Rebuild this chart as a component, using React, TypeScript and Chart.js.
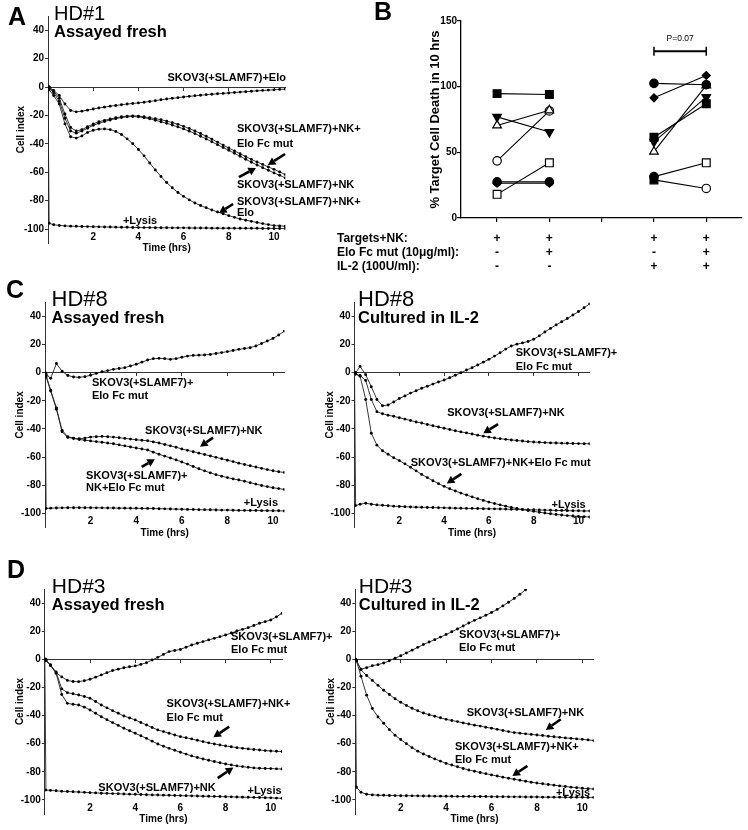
import React, { useEffect, useRef } from "react";
import { Chart, registerables } from "chart.js";
Chart.register(...registerables);

const FONT = "'Liberation Sans', Arial, Helvetica, sans-serif";
Chart.defaults.font.family = FONT;
Chart.defaults.color = "#000";

// ---------- shared time axis (hrs) ----------
const times = [
  0, 0.05, 0.25, 0.5, 0.75, 1, 1.25, 1.5, 1.75, 2, 2.25,
  2.5, 2.75, 3, 3.25, 3.5, 3.75, 4, 4.25, 4.5, 4.75, 5,
  5.25, 5.5, 5.75, 6, 6.25, 6.5, 6.75, 7, 7.25, 7.5, 7.75,
  8, 8.25, 8.5, 8.75, 9, 9.25, 9.5, 9.75, 10, 10.25, 10.5,
];
const timeTickValues = [2, 4, 6, 8, 10];
const cellIndexTickValues = [-100, -80, -60, -40, -20, 0, 20, 40];

// ---------- Panel A : HD#1 assayed fresh ----------
const hd1Elo = [
  0, 0, -2.5, -6, -12, -16.5, -17.5, -17, -16.3, -15.5, -14.8,
  -14.2, -13.5, -13, -12.5, -12, -11.6, -11.2, -10.7, -10.2, -9.6, -9,
  -8.5, -8, -7.5, -7, -6.6, -6.2, -5.8, -5.4, -5.1, -4.8, -4.5,
  -4.2, -3.9, -3.6, -3.3, -3, -2.7, -2.4, -2.2, -2, -1.7, -1.5,
];
const hd1NKEloFcMut = [
  0, 0, -3, -8, -19, -28.5, -31, -30, -28, -26, -24.5,
  -23.5, -22.5, -21.7, -21, -20.5, -20.3, -20.5, -21, -21.6, -22.3, -23,
  -24, -25.1, -26.3, -27.7, -29.2, -30.9, -32.7, -34.7, -36.7, -38.8, -40.9,
  -43, -45, -47, -49, -51, -52.8, -54.5, -56.3, -58, -59.8, -61.7,
];
const hd1NK = [
  0, -1, -4, -10, -22, -31, -32.5, -31, -29, -27, -25.5,
  -24.3, -23.2, -22.3, -21.5, -21, -20.8, -21, -21.6, -22.4, -23.4, -24.5,
  -25.6, -26.8, -28.1, -29.5, -31.1, -32.8, -34.7, -36.6, -38.6, -40.6, -42.6,
  -44.6, -46.7, -48.8, -50.9, -53, -54.9, -56.8, -58.6, -60.5, -62.2, -64,
];
const hd1NKElo = [
  0, -2, -6, -12, -26, -35, -36, -34.5, -32, -30.5, -29.7,
  -29.5, -30, -31.3, -33.5, -36.5, -40, -44, -48.5, -53.5, -58.5, -63,
  -67.3, -71, -74.3, -77, -79.5, -81.7, -83.5, -85, -86.6, -88, -89.3,
  -90.6, -91.8, -93, -93.8, -94.6, -95.4, -96.2, -96.9, -97.6, -97.8, -98,
];
const hd1Lysis = [
  0, -96, -97, -97.5, -97.8, -98, -98.1, -98.2, -98.3, -98.4, -98.5,
  -98.6, -98.6, -98.7, -98.8, -98.8, -98.9, -99, -99, -99, -99.1, -99.1,
  -99.1, -99.2, -99.2, -99.2, -99.3, -99.3, -99.3, -99.3, -99.4, -99.4, -99.4,
  -99.4, -99.5, -99.5, -99.5, -99.5, -99.5, -99.6, -99.6, -99.6, -99.6, -99.6,
];

// ---------- Panel C left : HD#8 assayed fresh ----------
const hd8FreshEloFcMut = [
  0, -1, -4, 6.5, 1, -2, -3, -3.3, -2.8, -1.8, -0.5,
  0.7, 1.5, 2.4, 3, 3.6, 4.8, 6, 7.5, 9, 10, 10.2,
  10, 9.5, 10, 11, 11.8, 12.3, 12.5, 12.6, 13, 13.7, 14.3,
  15, 15.8, 16.6, 17.2, 17.8, 19, 20.8, 22.5, 24.4, 26.8, 29.6,
];
const hd8FreshNK = [
  0, -2, -12.5, -25, -41, -45.5, -46.5, -47, -46.5, -45.8, -45.5,
  -45.3, -45.5, -45.8, -46.2, -46.7, -47.2, -47.7, -48, -48.4, -49.2, -50,
  -51, -52, -53, -54.2, -55.2, -56.2, -57.2, -58.2, -59.2, -60.2, -61.2,
  -62.2, -63.2, -64.3, -65.3, -66.2, -67.1, -68, -68.9, -69.7, -70.4, -71,
];
const hd8FreshNKEloFcMut = [
  0, -3, -13, -26, -42, -46, -46.8, -47.5, -48, -48.5, -49,
  -49.5, -50, -50.5, -51.3, -52, -52.8, -53.5, -54.2, -55, -56.5, -58,
  -59.3, -60.6, -62, -63.5, -65, -66.7, -68.3, -69.8, -71.2, -72.5, -73.6,
  -74.6, -75.5, -76.3, -77.2, -78.2, -79.2, -80.2, -81, -81.8, -82.4, -83,
];
const hd8FreshLysis = [
  0, -96.5, -96.3, -96.2, -96.1, -96, -96, -96, -96, -96, -96.1,
  -96.1, -96.2, -96.2, -96.3, -96.3, -96.4, -96.4, -96.5, -96.5, -96.6, -96.7,
  -96.8, -96.9, -97, -97.1, -97.2, -97.3, -97.4, -97.5, -97.5, -97.6, -97.7,
  -97.7, -97.8, -97.9, -97.9, -98, -98, -98.1, -98.1, -98.2, -98.2, -98.3,
];

// ---------- Panel C right : HD#8 cultured in IL-2 ----------
const hd8IL2EloFcMut = [
  0, 0, 4.5, -1.5, -10, -19, -23.5, -23, -20.8, -18.3, -16.5,
  -14.5, -12.8, -11.1, -9.6, -8.1, -6.6, -5.2, -3.6, -1.8, 0, 1.9,
  3.6, 5.5, 7.5, 9.5, 11.8, 14.2, 16.8, 19, 20.3, 21.2, 22.2,
  23.8, 26.2, 29, 31.5, 34, 36.2, 38.5, 41, 43.5, 46.2, 49,
];
const hd8IL2NK = [
  0, -1, -2, -5.5, -19, -27.7, -29.2, -30.2, -31, -32, -33,
  -34, -35, -35.8, -36.8, -37.7, -38.6, -39.5, -40.4, -41.3, -42.1, -42.8,
  -43.6, -44.4, -45.1, -45.8, -46.4, -46.9, -47.4, -47.8, -48.2, -48.6, -49,
  -49.3, -49.5, -49.7, -49.9, -50, -50.1, -50.2, -50.3, -50.4, -50.5, -50.5,
];
const hd8IL2NKEloFcMut = [
  0, -1, -2.5, -19, -43, -51.5, -55.5, -58, -60.5, -62.5, -64.8,
  -67.2, -69.8, -72.3, -74.6, -76.8, -78.9, -80.8, -82.5, -84.1, -85.6, -87,
  -88.3, -89.6, -90.8, -92, -93, -94, -94.9, -95.8, -96.6, -97.3, -98,
  -98.6, -99.2, -99.8, -100.3, -100.8, -101.2, -101.6, -101.9, -102.2, -102.4, -102.6,
];
const hd8IL2Lysis = [
  0, -94.5, -93.5, -92.8, -93.5, -94, -94.3, -94.6, -94.9, -95.1, -95.3,
  -95.5, -95.6, -95.7, -95.8, -95.9, -96, -96.1, -96.2, -96.3, -96.4, -96.5,
  -96.5, -96.6, -96.7, -96.8, -96.8, -96.9, -97, -97.1, -97.2, -97.3, -97.4,
  -97.5, -97.6, -97.7, -97.8, -97.9, -98, -98.1, -98.2, -98.2, -98.3, -98.3,
];

// ---------- Panel D left : HD#3 assayed fresh ----------
const hd3FreshEloFcMut = [
  0, 0, -4.5, -9.5, -12.5, -15, -15.8, -15.9, -15.2, -14.2, -12.7,
  -11.1, -9.5, -8, -7, -6, -5.3, -4.7, -3.6, -2.4, -0.5, 1.4,
  3.5, 5.5, 6.3, 7, 8.6, 10.2, 11.4, 12.6, 13.8, 14.9, 16.1,
  17.3, 18.7, 20.1, 21.3, 22.5, 24, 25.6, 26.8, 28, 30.2, 32.7,
];
const hd3FreshNKEloFcMut = [
  0, -1, -4, -9, -21, -23.7, -24.5, -25.4, -26.4, -27.7, -30,
  -32.5, -34.5, -36.5, -38.4, -40.3, -41.7, -43.1, -44.9, -46.7, -48.5, -50.2,
  -51.4, -52.6, -53.8, -55, -55.8, -56.6, -57.6, -58.5, -59.4, -60.2, -60.9,
  -61.6, -62.2, -62.8, -63.3, -63.7, -64.1, -64.5, -64.9, -65.2, -65.4, -65.6,
];
const hd3FreshNK = [
  0, -1, -4, -10, -25, -31.3, -32, -32.5, -34, -36, -38.4,
  -40.8, -42.9, -45, -47, -49, -50.8, -52.6, -54.4, -56.2, -58.2, -60.2,
  -61.8, -63.3, -64.7, -66.1, -67.4, -68.7, -69.8, -70.9, -71.8, -72.7, -73.6,
  -74.4, -75.1, -75.8, -76.3, -76.8, -77.2, -77.5, -77.6, -77.7, -77.9, -78,
];
const hd3FreshLysis = [
  0, -93, -93.2, -93.5, -93.8, -94, -94.2, -94.4, -94.6, -94.8, -95,
  -95.2, -95.3, -95.5, -95.6, -95.8, -95.9, -96, -96.1, -96.3, -96.4, -96.5,
  -96.6, -96.7, -96.8, -96.9, -97, -97.1, -97.2, -97.3, -97.4, -97.5, -97.6,
  -97.7, -97.8, -97.9, -98, -98.1, -98.2, -98.3, -98.4, -98.5, -98.7, -98.8,
];

// ---------- Panel D right : HD#3 cultured in IL-2 ----------
const hd3IL2EloFcMut = [
  0, -1, -7, -6, -4.5, -3.8, -2.6, -1, 0.8, 2.5, 4.5,
  6.5, 8.5, 10.5, 12.3, 14, 15.8, 17.6, 19.6, 21.6, 23.7, 25.8,
  27.7, 29.5, 31.3, 33.3, 35.5, 38, 40.6, 43.3, 46.3, 49.5, null,
  null, null, null, null, null, null, null, null, null, null, null,
];
const hd3IL2NK = [
  0, -1, -7.5, -11.5, -15, -18.5, -22, -25, -28, -30.5, -32.8,
  -34.8, -36.6, -38.2, -39.4, -40.5, -41.6, -42.7, -43.5, -44.3, -45.2, -46,
  -46.8, -47.5, -48.3, -49, -49.8, -50.6, -51.4, -52.1, -52.5, -53, -53.4,
  -53.8, -54.2, -54.7, -55.1, -55.5, -55.9, -56.2, -56.6, -56.9, -57.3, -57.8,
];
const hd3IL2NKEloFcMut = [
  0, -1, -12, -25.5, -35, -41, -45.5, -50, -54, -57, -60,
  -62.8, -65.3, -67.3, -69.1, -70.8, -72.4, -74, -75.2, -76.4, -77.6, -78.7,
  -79.6, -80.5, -81.3, -82.2, -83, -83.8, -84.6, -85.3, -86, -86.7, -87.4,
  -88, -88.5, -89, -89.5, -90, -90.4, -90.9, -91.3, -91.7, -92, -92.2,
];
const hd3IL2Lysis = [
  0, -91, -94.5, -96, -96.4, -96.6, -96.7, -96.8, -96.9, -97, -97,
  -97.1, -97.1, -97.2, -97.2, -97.3, -97.3, -97.4, -97.4, -97.5, -97.5, -97.5,
  -97.6, -97.6, -97.6, -97.7, -97.7, -97.7, -97.8, -97.8, -97.8, -97.9, -97.9,
  -97.9, -98, -98, -98, -98, -98.1, -98.1, -98.1, -98.1, -98.2, -98.2,
];

// ---------- Panel B : % target cell death in 10 hrs ----------
const bColumns = [0, 1, 2, 3, 4];
const bTargetsRow = ["+", "+", "", "+", "+"];
const bEloRow = ["-", "+", "", "-", "+"];
const bIL2Row = ["-", "-", "", "+", "+"];
const bRowLabels = ["Targets+NK:", "Elo Fc mut (10\u03bcg/ml):", "IL-2 (100U/ml):"];
const bYTickValues = [0, 50, 100, 150];
const bLeftBefore = [94.7, 77, 70.5, 43.5, 27.5, 26.5, 18];
const bLeftAfter = [94, 65.5, 82, 81.5, 27.5, 26.5, 42];
const bLeftBeforeMarker = ["square", "invTriangle", "openTriangle", "openCircle", "circle", "diamond", "openSquare"];
const bLeftAfterMarker = ["square", "invTriangle", "openTriangle", "openCircle", "circle", "diamond", "openSquare"];
const bRightBefore = [102.5, 91.5, 61.5, 58, 50.5, 31.5, 29];
const bRightAfter = [101.5, 108.5, 87, 92, 101, 42, 22.5];
const bRightBeforeMarker = ["circle", "diamond", "square", "invTriangle", "openTriangle", "circle", "square"];
const bRightAfterMarker = ["circle", "diamond", "square", "invTriangle", "triangle", "openSquare", "openCircle"];
const bPText = "P=0.07";

// ---------- layout / styling ----------
type Frame = {
  left: number; top: number; width: number; height: number;
  chartLeft: number; chartTop: number; chartRight: number; chartBottom: number;
  titleInset: number; yTitleGap: number;
  letter?: { text: string; x: number; y: number };
};
type Note = { text: string; t: number; v: number; align: CanvasTextAlign };
type ArrowMark = { from: [number, number]; to: [number, number] };
type TimePanel = {
  frame: Frame; hd: string; hdSize: number; sub: string;
  series: (number | null)[][]; notes: Note[]; arrows: ArrowMark[];
};

const LINE = "#222";

const panels: TimePanel[] = [
  {
    frame: { left: 0, top: 0, width: 374, height: 262, chartLeft: 48, chartTop: 16, chartRight: 285.3, chartBottom: 243.2, titleInset: 6, yTitleGap: 27, letter: { text: "A", x: 8, y: 25 } },
    hd: "HD#1", hdSize: 20, sub: "Assayed fresh",
    series: [hd1Elo, hd1NKEloFcMut, hd1NK, hd1NKElo, hd1Lysis],
    notes: [
      { text: "SKOV3(+SLAMF7)+Elo", t: 10.53, v: 6.3, align: "right" },
      { text: "SKOV3(+SLAMF7)+NK+", t: 8.36, v: -29.6, align: "left" },
      { text: "Elo Fc mut", t: 8.36, v: -40, align: "left" },
      { text: "SKOV3(+SLAMF7)+NK", t: 8.36, v: -69, align: "left" },
      { text: "SKOV3(+SLAMF7)+NK+", t: 8.36, v: -81, align: "left" },
      { text: "Elo", t: 8.36, v: -88.7, align: "left" },
      { text: "+Lysis", t: 4.07, v: -94.4, align: "center" },
    ],
    arrows: [
      { from: [10.49, -47.2], to: [9.73, -54.9] },
      { from: [8.45, -63.4], to: [9.2, -57] },
      { from: [8.19, -82.4], to: [7.57, -88.7] },
    ],
  },
  {
    frame: { left: 0, top: 272, width: 374, height: 268, chartLeft: 45, chartTop: 30.4, chartRight: 284.4, chartBottom: 255.4, titleInset: 6.5, yTitleGap: 24.5, letter: { text: "C", x: 6, y: 26 } },
    hd: "HD#8", hdSize: 22, sub: "Assayed fresh",
    series: [hd8FreshEloFcMut, hd8FreshNK, hd8FreshNKEloFcMut, hd8FreshLysis],
    notes: [
      { text: "SKOV3(+SLAMF7)+", t: 2.06, v: -7.3, align: "left" },
      { text: "Elo Fc mut", t: 2.06, v: -16.6, align: "left" },
      { text: "SKOV3(+SLAMF7)+NK", t: 4.39, v: -41.5, align: "left" },
      { text: "SKOV3(+SLAMF7)+", t: 1.8, v: -73.2, align: "left" },
      { text: "NK+Elo Fc mut", t: 1.8, v: -82, align: "left" },
      { text: "+Lysis", t: 10.22, v: -92.7, align: "right" },
    ],
    arrows: [
      { from: [7.37, -46.2], to: [6.8, -52.6] },
      { from: [4.24, -66.9], to: [4.82, -61.6] },
    ],
  },
  {
    frame: { left: 306, top: 272, width: 442, height: 268, chartLeft: 48.5, chartTop: 30.4, chartRight: 283.7, chartBottom: 255.4, titleInset: 3.5, yTitleGap: 24.5 },
    hd: "HD#8", hdSize: 22, sub: "Cultured in IL-2",
    series: [hd8IL2EloFcMut, hd8IL2NK, hd8IL2NKEloFcMut, hd8IL2Lysis],
    notes: [
      { text: "SKOV3(+SLAMF7)+", t: 7.2, v: 13.8, align: "left" },
      { text: "Elo Fc mut", t: 7.2, v: 4.3, align: "left" },
      { text: "SKOV3(+SLAMF7)+NK", t: 4.14, v: -28.9, align: "left" },
      { text: "SKOV3(+SLAMF7)+NK+Elo Fc mut", t: 2.51, v: -64.4, align: "left" },
      { text: "+Lysis", t: 10.32, v: -94.1, align: "right" },
    ],
    arrows: [
      { from: [6.41, -36.5], to: [5.75, -43.1] },
      { from: [4.77, -72], to: [4.12, -78.7] },
    ],
  },
  {
    frame: { left: 0, top: 552, width: 374, height: 276, chartLeft: 44.8, chartTop: 37, chartRight: 282.1, chartBottom: 262, titleInset: 7, yTitleGap: 24.5, letter: { text: "D", x: 7, y: 26 } },
    hd: "HD#3", hdSize: 21, sub: "Assayed fresh",
    series: [hd3FreshEloFcMut, hd3FreshNKEloFcMut, hd3FreshNK, hd3FreshLysis],
    notes: [
      { text: "SKOV3(+SLAMF7)+", t: 8.24, v: 15.6, align: "left" },
      { text: "Elo Fc mut", t: 8.24, v: 6.6, align: "left" },
      { text: "SKOV3(+SLAMF7)+NK+", t: 5.39, v: -31.8, align: "left" },
      { text: "Elo Fc mut", t: 5.39, v: -41.9, align: "left" },
      { text: "SKOV3(+SLAMF7)+NK", t: 2.37, v: -91.7, align: "left" },
      { text: "+Lysis", t: 10.48, v: -93.6, align: "right" },
    ],
    arrows: [
      { from: [8.16, -47.9], to: [7.46, -55.4] },
      { from: [7.65, -84.5], to: [8.34, -77] },
    ],
  },
  {
    frame: { left: 306, top: 552, width: 442, height: 276, chartLeft: 49.3, chartTop: 37, chartRight: 287.7, chartBottom: 262, titleInset: 3.5, yTitleGap: 24.5 },
    hd: "HD#3", hdSize: 21, sub: "Cultured in IL-2",
    series: [hd3IL2EloFcMut, hd3IL2NK, hd3IL2NKEloFcMut, hd3IL2Lysis],
    notes: [
      { text: "SKOV3(+SLAMF7)+", t: 4.57, v: 17.3, align: "left" },
      { text: "Elo Fc mut", t: 4.57, v: 8.3, align: "left" },
      { text: "SKOV3(+SLAMF7)+NK", t: 4.91, v: -37.9, align: "left" },
      { text: "SKOV3(+SLAMF7)+NK+", t: 4.39, v: -62.5, align: "left" },
      { text: "Elo Fc mut", t: 4.39, v: -71.6, align: "left" },
      { text: "+Lysis", t: 10.34, v: -95.2, align: "right" },
    ],
    arrows: [
      { from: [9.05, -42.6], to: [8.39, -50.2] },
      { from: [7.58, -75.8], to: [6.92, -82.9] },
    ],
  },
];

const bFrame: Frame = { left: 330, top: 0, width: 418, height: 280, chartLeft: 131, chartTop: 21, chartRight: 412, chartBottom: 218, titleInset: 0, yTitleGap: 25.3, letter: { text: "B", x: 44, y: 20 } };
const bBracket = { from: 3, to: 4, level: 127, textLevel: 136.8 };

const tickFont = { family: FONT, size: 10, weight: "bold" as const };
const noteFont = `bold 11px ${FONT}`;

function drawArrow(ctx: CanvasRenderingContext2D, x1: number, y1: number, x2: number, y2: number) {
  const ang = Math.atan2(y2 - y1, x2 - x1);
  const head = 7.5;
  const hw = 4.2;
  const bx = x2 - head * Math.cos(ang);
  const by = y2 - head * Math.sin(ang);
  ctx.beginPath();
  ctx.moveTo(x1, y1);
  ctx.lineTo(bx, by);
  ctx.lineWidth = 2.6;
  ctx.strokeStyle = "#000";
  ctx.stroke();
  ctx.beginPath();
  ctx.moveTo(x2, y2);
  ctx.lineTo(bx + hw * Math.sin(ang), by - hw * Math.cos(ang));
  ctx.lineTo(bx - hw * Math.sin(ang), by + hw * Math.cos(ang));
  ctx.closePath();
  ctx.fillStyle = "#000";
  ctx.fill();
}

function drawLetter(ctx: CanvasRenderingContext2D, f: Frame) {
  if (!f.letter) return;
  ctx.font = `bold 25px ${FONT}`;
  ctx.textAlign = "left";
  ctx.textBaseline = "alphabetic";
  ctx.fillStyle = "#000";
  ctx.fillText(f.letter.text, f.letter.x, f.letter.y);
}

function timePanelConfig(p: TimePanel): any {
  const f = p.frame;
  const labelRise = 6.2; // label centre sits this far above the plot bottom
  const titleOffset = 5.5;
  const textPlugin = {
    id: "panelText",
    afterDraw(chart: any) {
      const { ctx, chartArea } = chart;
      const xs = chart.scales.x;
      const ys = chart.scales.y;
      ctx.save();
      ctx.fillStyle = "#000";
      ctx.textAlign = "left";
      ctx.textBaseline = "alphabetic";
      const y40 = ys.getPixelForValue(40);
      ctx.font = `normal ${p.hdSize}px ${FONT}`;
      ctx.fillText(p.hd, chartArea.left + f.titleInset, y40 - 10);
      ctx.font = `bold 16.5px ${FONT}`;
      ctx.fillText(p.sub, chartArea.left + f.titleInset, y40 + 6.6);
      ctx.font = noteFont;
      ctx.textBaseline = "middle";
      for (const n of p.notes) {
        ctx.textAlign = n.align;
        ctx.fillText(n.text, xs.getPixelForValue(n.t), ys.getPixelForValue(n.v));
      }
      for (const a of p.arrows) {
        drawArrow(ctx, xs.getPixelForValue(a.from[0]), ys.getPixelForValue(a.from[1]), xs.getPixelForValue(a.to[0]), ys.getPixelForValue(a.to[1]));
      }
      drawLetter(ctx, f);
      ctx.restore();
    },
  };
  return {
    type: "line",
    data: {
      datasets: p.series.map((s) => ({
        data: times.map((t, i) => ({ x: t, y: s[i] })).filter((d) => d.y !== null),
        xAxisID: "x",
        yAxisID: "y",
        borderColor: LINE,
        borderWidth: 0.9,
        pointRadius: 1.45,
        pointBackgroundColor: "#000",
        pointBorderWidth: 0,
        pointHoverRadius: 0,
        tension: 0,
        fill: false,
      })),
    },
    options: {
      animation: false,
      responsive: false,
      events: [],
      layout: { padding: { left: 0, top: f.chartTop, right: f.width - f.chartRight, bottom: 0 } },
      plugins: { legend: { display: false }, tooltip: { enabled: false }, title: { display: false } },
      scales: {
        x: {
          type: "linear", min: 0, max: 10.5, position: { y: 0 },
          afterFit: (s: any) => { s.height = 0; },
          afterBuildTicks: (s: any) => { s.ticks = timeTickValues.map((v) => ({ value: v })); },
          grid: { drawOnChartArea: false, drawTicks: true, tickLength: 3, color: "#333", lineWidth: 1 },
          border: { display: true, color: "#333", width: 1 },
          ticks: { display: false },
        },
        xl: {
          type: "linear", axis: "x", min: 0, max: 10.5, position: "bottom",
          afterFit: (s: any) => { s.height = f.height - f.chartBottom; },
          afterBuildTicks: (s: any) => { s.ticks = timeTickValues.map((v) => ({ value: v })); },
          grid: { display: false },
          border: { display: false },
          ticks: { font: tickFont, color: "#000", mirror: true, padding: labelRise - 6, autoSkip: false, maxRotation: 0 },
          title: { display: true, text: "Time (hrs)", font: tickFont, color: "#000", padding: { top: 0, bottom: f.height - (f.chartBottom + titleOffset) - 6 } },
        },
        y: {
          type: "linear", min: -110, max: 50, position: "left",
          afterFit: (s: any) => { s.width = f.chartLeft; },
          afterBuildTicks: (s: any) => { s.ticks = cellIndexTickValues.map((v) => ({ value: v })); },
          grid: { drawOnChartArea: false, drawTicks: true, tickLength: 3, color: "#333" },
          border: { display: true, color: "#333", width: 1 },
          ticks: { font: tickFont, color: "#000", padding: 1, autoSkip: false },
          title: { display: true, text: "Cell index", font: tickFont, color: "#000", padding: { top: f.chartLeft - f.yTitleGap - 6, bottom: 0 } },
        },
      },
    },
    plugins: [textPlugin],
  };
}

const markerDefs: Record<string, { style: string; r: number; fill: boolean; rot: number }> = {
  square: { style: "rect", r: 5.5, fill: true, rot: 0 },
  openSquare: { style: "rect", r: 5.5, fill: false, rot: 0 },
  circle: { style: "circle", r: 4.2, fill: true, rot: 0 },
  openCircle: { style: "circle", r: 4.2, fill: false, rot: 0 },
  triangle: { style: "triangle", r: 5, fill: true, rot: 0 },
  openTriangle: { style: "triangle", r: 5, fill: false, rot: 0 },
  invTriangle: { style: "triangle", r: 5, fill: true, rot: 180 },
  diamond: { style: "rectRot", r: 4, fill: true, rot: 0 },
};

function pairDataset(xa: number, xb: number, va: number, vb: number, ma: string, mb: string) {
  const a = markerDefs[ma];
  const b = markerDefs[mb];
  return {
    data: [{ x: xa, y: va }, { x: xb, y: vb }],
    borderColor: "#000",
    borderWidth: 1.1,
    pointStyle: [a.style, b.style],
    pointRadius: [a.r, b.r],
    pointRotation: [a.rot, b.rot],
    pointBackgroundColor: [a.fill ? "#000" : "#fff", b.fill ? "#000" : "#fff"],
    pointBorderColor: "#000",
    pointBorderWidth: 1.2,
    pointHoverRadius: 0,
    tension: 0,
    fill: false,
  };
}

function bConfig(): any {
  const f = bFrame;
  const rowLine = 14.2;
  const datasets: any[] = [];
  bLeftBefore.forEach((v, i) => datasets.push(pairDataset(bColumns[0], bColumns[1], v, bLeftAfter[i], bLeftBeforeMarker[i], bLeftAfterMarker[i])));
  bRightBefore.forEach((v, i) => datasets.push(pairDataset(bColumns[3], bColumns[4], v, bRightAfter[i], bRightBeforeMarker[i], bRightAfterMarker[i])));
  const plugin = {
    id: "bText",
    afterDraw(chart: any) {
      const { ctx, chartArea } = chart;
      const xs = chart.scales.x;
      const ys = chart.scales.y;
      ctx.save();
      const yb = ys.getPixelForValue(bBracket.level);
      const xa = xs.getPixelForValue(bBracket.from);
      const xb = xs.getPixelForValue(bBracket.to);
      ctx.strokeStyle = "#000";
      ctx.lineWidth = 2;
      ctx.beginPath();
      ctx.moveTo(xa, yb);
      ctx.lineTo(xb, yb);
      ctx.stroke();
      ctx.lineWidth = 1.5;
      ctx.beginPath();
      ctx.moveTo(xa, yb - 4.5);
      ctx.lineTo(xa, yb + 4.5);
      ctx.moveTo(xb, yb - 4.5);
      ctx.lineTo(xb, yb + 4.5);
      ctx.stroke();
      ctx.fillStyle = "#000";
      ctx.font = `normal 8.5px ${FONT}`;
      ctx.textAlign = "center";
      ctx.textBaseline = "middle";
      ctx.fillText(bPText, (xa + xb) / 2, ys.getPixelForValue(bBracket.textLevel));
      ctx.font = `bold 12px ${FONT}`;
      ctx.textAlign = "left";
      bRowLabels.forEach((s, i) => ctx.fillText(s, 7, chartArea.bottom + 20.3 + i * rowLine));
      drawLetter(ctx, f);
      ctx.restore();
    },
  };
  return {
    type: "line",
    data: { datasets },
    options: {
      animation: false,
      responsive: false,
      events: [],
      layout: { padding: { left: 0, top: f.chartTop, right: f.width - f.chartRight, bottom: 0 } },
      plugins: { legend: { display: false }, tooltip: { enabled: false } },
      scales: {
        x: {
          type: "linear", min: -0.69, max: 4.67, position: "bottom",
          afterFit: (s: any) => { s.height = f.height - f.chartBottom; },
          afterBuildTicks: (s: any) => { s.ticks = bColumns.map((v) => ({ value: v })); },
          grid: { drawOnChartArea: false, drawTicks: true, tickLength: 4, color: "#000", lineWidth: 1.2 },
          border: { display: true, color: "#000", width: 1.3 },
          ticks: {
            font: { family: FONT, size: 12, weight: "bold", lineHeight: rowLine / 12 },
            color: "#000", padding: 9.2, autoSkip: false, maxRotation: 0,
            callback: (_v: any, i: number) => (bTargetsRow[i] === "" ? "" : [bTargetsRow[i], bEloRow[i], bIL2Row[i]]),
          },
        },
        y: {
          type: "linear", min: 0, max: 150, position: "left",
          afterFit: (s: any) => { s.width = f.chartLeft; },
          afterBuildTicks: (s: any) => { s.ticks = bYTickValues.map((v) => ({ value: v })); },
          grid: { drawOnChartArea: false, drawTicks: true, tickLength: 4, color: "#000", lineWidth: 1.2 },
          border: { display: true, color: "#000", width: 1.3 },
          ticks: { font: tickFont, color: "#000", padding: 0, autoSkip: false },
          title: { display: true, text: "% Target Cell Death in 10 hrs", font: { family: FONT, size: 13, weight: "bold" }, color: "#000", padding: { top: f.chartLeft - f.yTitleGap - 7.8, bottom: 0 } },
        },
      },
    },
    plugins: [plugin],
  };
}

function ChartBox({ frame, make }: { frame: Frame; make: () => any }) {
  const ref = useRef<HTMLCanvasElement>(null);
  useEffect(() => {
    if (!ref.current) return;
    const chart = new Chart(ref.current, make());
    return () => chart.destroy();
  }, []);
  return (
    <canvas
      ref={ref}
      width={frame.width}
      height={frame.height}
      style={{ position: "absolute", left: frame.left, top: frame.top, width: frame.width, height: frame.height }}
    />
  );
}

export default function App() {
  return (
    <div style={{ position: "absolute", left: 0, top: 0, width: 748, height: 830, background: "#fff", overflow: "hidden" }}>
      {panels.map((p, i) => (
        <ChartBox key={i} frame={p.frame} make={() => timePanelConfig(p)} />
      ))}
      <ChartBox frame={bFrame} make={bConfig} />
    </div>
  );
}
